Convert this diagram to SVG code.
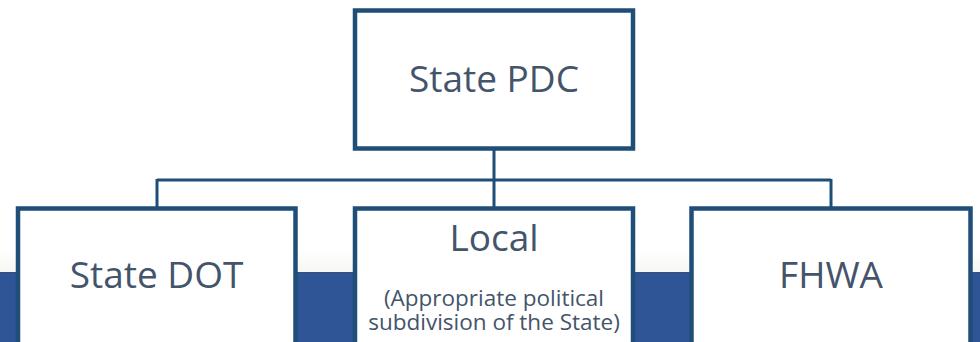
<svg xmlns="http://www.w3.org/2000/svg" width="980" height="342" viewBox="0 0 980 342">
  <defs>
    <linearGradient id="shade" x1="0" y1="0" x2="0" y2="1">
      <stop offset="0" stop-color="#ffffff"/>
      <stop offset="1" stop-color="#f6f6f2"/>
    </linearGradient>
  </defs>
  <style>
    .box { fill: #ffffff; stroke: #1F4E79; stroke-width: 4.5; }
    .conn { fill: none; stroke: #1F4E79; stroke-width: 3; }
    .big { font-family: "Open Sans", "Noto Sans", sans-serif; font-size: 37px; fill: #44546A; text-anchor: middle; }
    .small { font-family: "Open Sans", "Noto Sans", sans-serif; font-size: 22.5px; fill: #44546A; text-anchor: middle; }
  </style>
  <rect x="0" y="0" width="980" height="342" fill="#ffffff"/>
  <rect x="0" y="250" width="980" height="22" fill="url(#shade)"/>
  <rect x="0" y="272" width="980" height="70" fill="#2F5597"/>
  <line x1="0" y1="272.5" x2="980" y2="272.5" stroke="#3B4F75" stroke-width="1"/>

  <g id="connectors">
    <line class="conn" x1="494" y1="150" x2="494" y2="180"/>
    <line class="conn" x1="157" y1="180" x2="831" y2="180" stroke-width="2.6"/>
    <line class="conn" x1="157" y1="179" x2="157" y2="208"/>
    <line class="conn" x1="494" y1="180" x2="494" y2="208"/>
    <line class="conn" x1="831" y1="179" x2="831" y2="208"/>
  </g>

  <g id="state-pdc">
    <rect class="box" x="355" y="10.5" width="278" height="138"/>
    <text class="big" x="494" y="92">State PDC</text>
  </g>

  <g id="state-dot">
    <rect class="box" x="18" y="208.5" width="277.5" height="150"/>
    <text class="big" x="156.5" y="288">State DOT</text>
  </g>

  <g id="local">
    <rect class="box" x="355" y="208.5" width="278" height="150"/>
    <text class="big" x="494" y="251">Local</text>
    <text class="small"><tspan x="494" y="305.5">(Appropriate political</tspan><tspan x="494" y="329.5">subdivision of the State)</tspan></text>
  </g>

  <g id="fhwa">
    <rect class="box" x="691.5" y="208.5" width="279" height="150"/>
    <text class="big" x="831" y="288">FHWA</text>
  </g>
</svg>
